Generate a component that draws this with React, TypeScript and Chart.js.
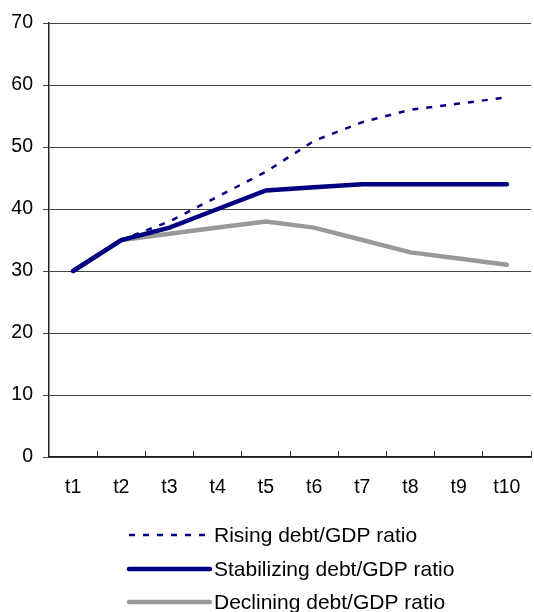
import React, { useEffect, useRef } from "react";
import { Chart, registerables } from "chart.js";

Chart.register(...registerables);

const categories = ["t1", "t2", "t3", "t4", "t5", "t6", "t7", "t8", "t9", "t10"];
const rising = [30, 35, 38, 42, 46, 51, 54, 56, 57, 58];
const stabilizing = [30, 35, 37, 40, 43, 43.5, 44, 44, 44, 44];
const declining = [30, 35, 36, 37, 38, 37, 35, 33, 32, 31];
const seriesNames = ["Rising debt/GDP ratio", "Stabilizing debt/GDP ratio", "Declining debt/GDP ratio"];

const FONT = "'Liberation Sans', Arial, sans-serif";

const legendPlugin = {
  id: "vertLegend",
  afterDraw(chart: any) {
    const ctx = chart.ctx;
    const rows = [535, 569, 602];
    chart.data.datasets.forEach((ds: any, i: number) => {
      const y = rows[i];
      ctx.save();
      ctx.strokeStyle = ds.borderColor;
      ctx.lineWidth = ds.borderWidth;
      ctx.lineCap = ds.borderDash && ds.borderDash.length ? "butt" : "round";
      ctx.setLineDash(ds.borderDash || []);
      ctx.beginPath();
      ctx.moveTo(129, y);
      ctx.lineTo(210, y);
      ctx.stroke();
      ctx.setLineDash([]);
      ctx.fillStyle = "#000";
      ctx.font = `21px ${FONT}`;
      ctx.textBaseline = "middle";
      ctx.textAlign = "left";
      ctx.fillText(ds.label, 214, y + 1);
      ctx.restore();
    });
  },
};

export default function App() {
  const ref = useRef<HTMLCanvasElement>(null);
  useEffect(() => {
    document.body.style.margin = "0";
    const chart = new Chart(ref.current!, {
      type: "line",
      data: {
        labels: categories,
        datasets: [
          { label: seriesNames[0], data: rising, borderColor: "#000080", borderWidth: 2.5, borderDash: [6, 8], pointRadius: 0, tension: 0, fill: false },
          { label: seriesNames[1], data: stabilizing, borderColor: "#000080", borderWidth: 4.5, pointRadius: 0, tension: 0, fill: false, borderCapStyle: "round" },
          { label: seriesNames[2], data: declining, borderColor: "#999999", borderWidth: 4.5, pointRadius: 0, tension: 0, fill: false, borderCapStyle: "round" },
        ],
      },
      options: {
        animation: false,
        responsive: false,
        layout: { padding: { top: 23, right: 3, left: 0, bottom: 115 } },
        plugins: { legend: { display: false }, tooltip: { enabled: false } },
        scales: {
          x: {
            offset: true,
            grid: { offset: true, drawOnChartArea: false, drawTicks: true, tickLength: -6, color: "#333", lineWidth: 1 },
            border: { color: "#222", width: 1.5 },
            ticks: { color: "#000", font: { family: FONT, size: 19.5 }, padding: 25, maxRotation: 0, autoSkip: false },
            afterFit: (s: any) => { s.height = 40; s.paddingLeft = 0; s.paddingRight = 0; },
          },
          y: {
            min: 0,
            max: 70,
            ticks: { stepSize: 10, color: "#000", font: { family: FONT, size: 19.5 }, padding: 10 },
            grid: { color: "#444", lineWidth: 1, tickLength: 6, drawTicks: true },
            border: { color: "#222", width: 1.5 },
            afterFit: (s: any) => { s.width = 49; s.paddingTop = 0; s.paddingBottom = 0; },
          },
        },
      },
      plugins: [legendPlugin],
    });
    return () => chart.destroy();
  }, []);
  return <canvas ref={ref} width={534} height={612} style={{ display: "block" }} />;
}
